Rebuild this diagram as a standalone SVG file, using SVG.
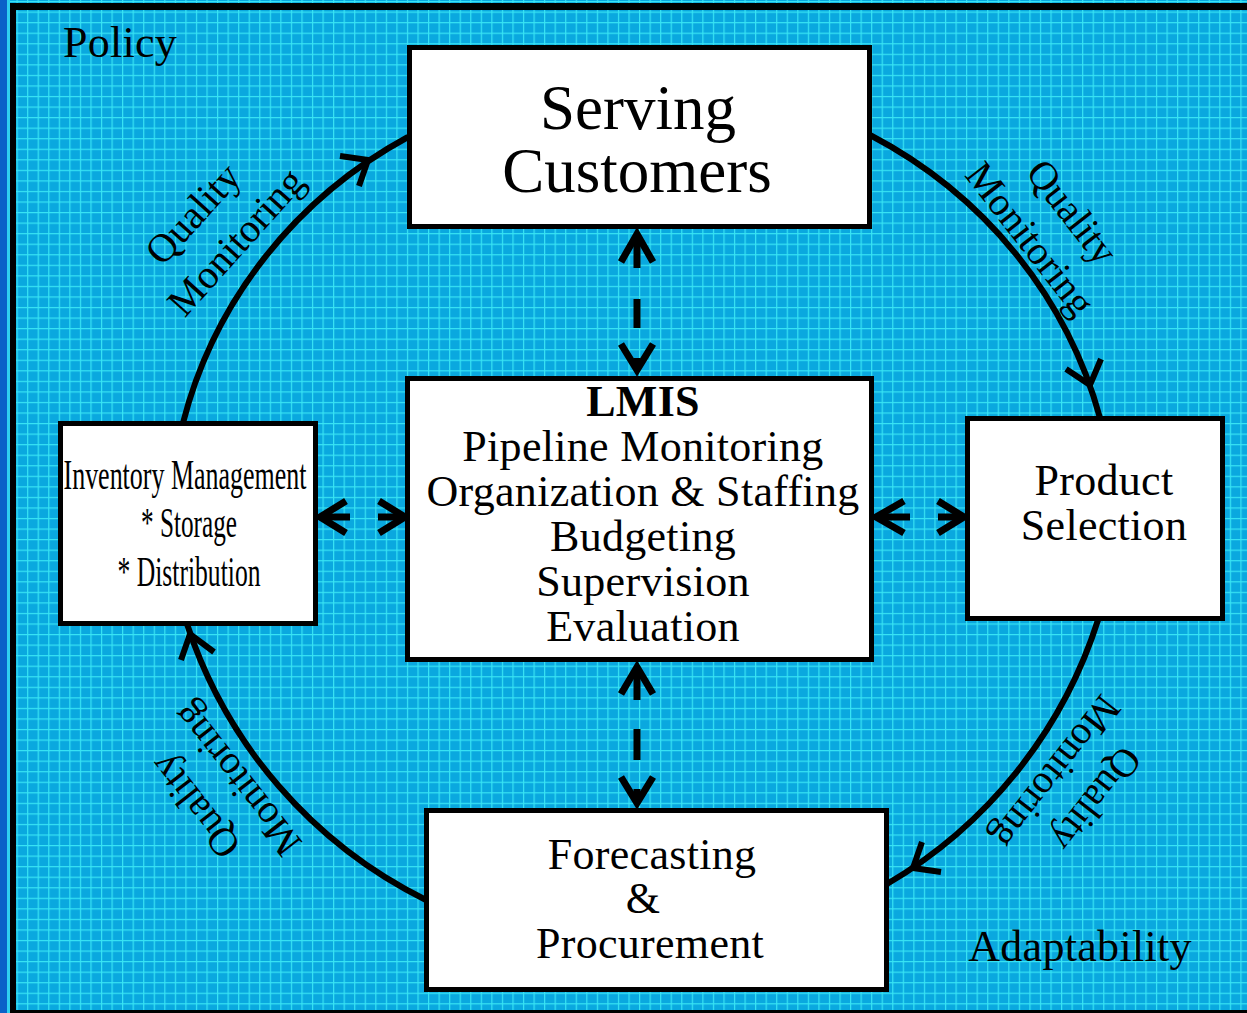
<svg xmlns="http://www.w3.org/2000/svg" width="1247" height="1013" viewBox="0 0 1247 1013">
  <defs>
    <pattern id="grid" patternUnits="userSpaceOnUse" x="6" y="1" width="10.55" height="10.55">
      <rect width="10.55" height="10.55" fill="#0aa8df"/>
      <path d="M0.6 0V10.55M0 0.6H10.55" stroke="#38e4f4" stroke-width="1.2" fill="none"/>
    </pattern>
    <style>
      .box { fill: #ffffff; stroke: #000000; stroke-width: 5; }
      .t { font-family: "Liberation Serif", "Times New Roman", serif; fill: #000000; text-anchor: middle; }
      .big { font-size: 63px; }
      .mid { font-size: 44px; letter-spacing: 0.3px; }
      .lbl { font-size: 40px; }
      .cond { font-size: 42px; }
      .arc { fill: none; stroke: #000000; stroke-width: 6; }
      .head { fill: none; stroke: #000000; stroke-width: 6; stroke-linejoin: miter; stroke-linecap: butt; }
      .dash { fill: none; stroke: #000000; stroke-width: 7; stroke-linecap: butt; stroke-linejoin: miter; }
    </style>
  </defs>

  <!-- background panel -->
  <rect x="0" y="0" width="1247" height="1013" fill="#0a62c8"/>
  <rect x="7" y="0" width="1240" height="1013" fill="#2fd0f0"/>
  <rect x="10" y="0" width="1237" height="1013" fill="url(#grid)"/>
  <rect x="10" y="3" width="1237" height="7" fill="#000000"/>
  <rect x="10" y="3" width="6" height="1010" fill="#000000"/>
  <rect x="10" y="1010" width="1237" height="3" fill="#000000"/>

  <!-- corner captions -->
  <text class="t mid" x="120" y="57">Policy</text>
  <text class="t mid" x="1080" y="961">Adaptability</text>

  <!-- cycle connectors -->
  <g id="connectors">
    <path class="arc" d="M183 423 A 466 452 0 0 1 408 137"/>
    <path class="arc" d="M870 135 A 466 452 0 0 1 1100 418"/>
    <path class="arc" d="M1098 620 A 472 472 0 0 1 887 884"/>
    <path class="arc" d="M426 900 A 472 472 0 0 1 187 624"/>

    <path class="head" d="M340 156 L368 160 L359 186"/>
    <path class="head" d="M1066 369 L1090 385 L1101 359"/>
    <path class="head" d="M922 842 L913 868 L941 872"/>
    <path class="head" d="M214 652 L190 634 L181 660"/>

    <!-- dashed two-way links to the LMIS hub -->
    <path class="dash" d="M637 234V268M637 299V328M637 358V370"/>
    <path class="dash" d="M621 262L637 234L653 262M621 344L637 370L653 344"/>
    <path class="dash" d="M637 667V700M637 729V760M637 789V803"/>
    <path class="dash" d="M621 694L637 667L653 694M621 777L637 803L653 777"/>
    <path class="dash" d="M320 517H350M378 517H405"/>
    <path class="dash" d="M346 501L320 517L346 533M379 501L405 517L379 533"/>
    <path class="dash" d="M876 517H910M938 517H964"/>
    <path class="dash" d="M904 501L876 517L904 533M938 501L964 517L938 533"/>
  </g>

  <!-- cycle labels -->
  <g class="t lbl">
    <text transform="translate(193,214) rotate(-48)" y="13">Quality</text>
    <text transform="translate(236,242) rotate(-48)" y="13">Monitoring</text>
    <text transform="translate(1072,212) rotate(52)" y="13">Quality</text>
    <text transform="translate(1030,239) rotate(52)" y="13">Monitoring</text>
    <text transform="translate(1096,799) rotate(128)" y="13">Quality</text>
    <text transform="translate(1056,772) rotate(128)" y="13">Monitoring</text>
    <text transform="translate(195,806) rotate(-128)" y="13">Quality</text>
    <text transform="translate(237,779) rotate(-128)" y="13">Monitoring</text>
  </g>

  <g id="serving">
    <rect class="box" x="409.5" y="47.5" width="460" height="179"/>
    <text class="t big" x="638" y="129">Serving</text>
    <text class="t big" x="637" y="192">Customers</text>
  </g>

  <g id="lmis">
    <rect class="box" x="407.5" y="378.5" width="464" height="281"/>
    <text class="t mid" x="643" y="416" font-weight="bold">LMIS</text>
    <text class="t mid" x="643" y="461">Pipeline Monitoring</text>
    <text class="t mid" x="643" y="506">Organization &amp; Staffing</text>
    <text class="t mid" x="643" y="551">Budgeting</text>
    <text class="t mid" x="643" y="596">Supervision</text>
    <text class="t mid" x="643" y="641">Evaluation</text>
  </g>

  <g id="inventory">
    <rect class="box" x="60.5" y="423.5" width="255" height="200"/>
    <text class="t cond" x="185" y="489" textLength="243" lengthAdjust="spacingAndGlyphs">Inventory Management</text>
    <text class="t cond" x="189" y="537" textLength="96" lengthAdjust="spacingAndGlyphs">* Storage</text>
    <text class="t cond" x="189" y="586" textLength="143" lengthAdjust="spacingAndGlyphs">* Distribution</text>
  </g>

  <g id="product">
    <rect class="box" x="967.5" y="418.5" width="255" height="200"/>
    <text class="t mid" x="1104" y="495">Product</text>
    <text class="t mid" x="1104" y="540">Selection</text>
  </g>

  <g id="forecasting">
    <rect class="box" x="426.5" y="810.5" width="460" height="179"/>
    <text class="t mid" x="652" y="869">Forecasting</text>
    <text class="t mid" x="643" y="913">&amp;</text>
    <text class="t mid" x="650" y="958">Procurement</text>
  </g>
</svg>
